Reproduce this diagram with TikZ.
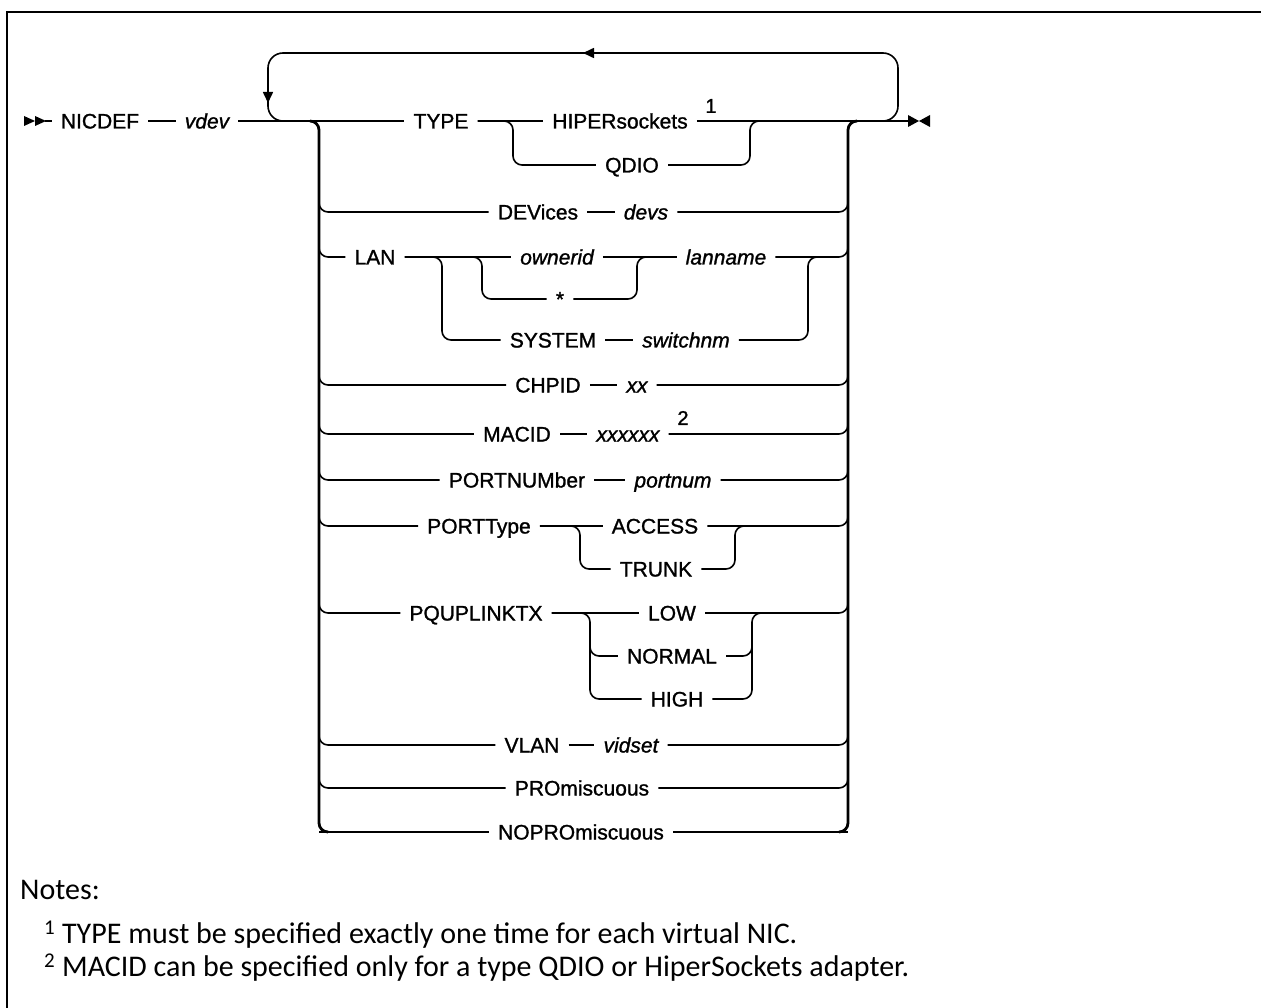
\documentclass[tikz,border=0pt]{standalone}
\usepackage{fontspec}
\setmainfont{Liberation Sans}[FakeBold=1.2,AutoFakeBold=1.2]
\newfontfamily\notefont{Carlito}
\usetikzlibrary{arrows.meta,calc}

\begin{document}
\begin{tikzpicture}[x=1pt,y=-1pt,
  kw/.style={inner xsep=9pt,inner ysep=0pt,text height=15pt,text depth=0pt,font=\fontsize{21}{21}\selectfont\bfseries},
  var/.style={kw,font=\fontsize{21}{21}\selectfont\bfseries\itshape},
  sup/.style={inner sep=0pt,font=\fontsize{20}{20}\selectfont\bfseries},
  ln/.style={line width=1.6pt},
  fork/.style={ln,rounded corners=9pt},
  rail/.style={line width=2.8pt,rounded corners=9pt},
  note/.style={anchor=west,inner sep=0pt,font=\notefont\fontsize{30}{30}\selectfont}]
  \useasboundingbox (0,0) rectangle (1261,1008);
  \draw[line width=2.6pt] (1261,12) -- (7,12) -- (7,1008); % frame

  % rails
  \coordinate (lrail) at (319,121);
  \coordinate (rrail) at (848,121);

  % main line
  \fill (24,116) -- (35,121) -- (24,126) -- cycle;
  \fill (35,116) -- (46,121) -- (35,126) -- cycle;
  \coordinate (start) at (45,121);
  \node[kw] (nicdef) at (100,121) {NICDEF};
  \node[var] (vdev) at (207,121) {vdev};
  \node[kw] (type) at (441,121) {TYPE};
  \node[kw] (hiper) at (620,121) {HIPERsockets};
  \node[sup] (n1) at (711,106) {1};
  \node[kw] (qdio) at (632,165) {QDIO};
  \coordinate (stop) at (908,121);
  \fill (908,115) -- (919,121) -- (908,127) -- cycle;
  \fill (930,115) -- (919,121) -- (930,127) -- cycle;

  \draw[ln] (start) -- (nicdef);
  \draw[ln] (nicdef) -- (vdev);
  \draw[ln] (vdev) -- (type);
  \draw[ln] (type) -- (hiper);
  \draw[ln] (hiper) -- (stop);
  \draw[fork] (type) -| (513,140) |- (qdio);
  \draw[fork] (qdio) -| (750,140) |- (762,121);

  % repeat loop
  \draw[ln,rounded corners=15pt] (875,121) -- (898,121) -- (898,53) -- (268,53) -- (268,121) -- (295,121);
  \draw[ln,-{Triangle[length=11pt,width=10pt]}] (268,85) -- (268,103);
  \draw[ln,-{Triangle[length=11pt,width=10pt]}] (600,53) -- (583,53);

  % DEVices
  \node[kw] (devk) at (538,212) {DEVices};
  \node[var] (devs) at (646,212) {devs};
  \draw[ln] (devk) -- (devs);

  % LAN
  \node[kw] (lan) at (375,257) {LAN};
  \node[var] (ownerid) at (557,257) {ownerid};
  \node[var] (lanname) at (726,257) {lanname};
  \node[kw] (star) at (560,299) {*};
  \node[kw] (system) at (553,340) {SYSTEM};
  \node[var] (switchnm) at (686,340) {switchnm};
  \draw[ln] (lan) -- (ownerid);
  \draw[ln] (ownerid) -- (lanname);
  \draw[ln] (system) -- (switchnm);
  \draw[fork] (lan) -| (442,300) |- (system);
  \draw[fork] (465,257) -| (482,280) |- (star);
  \draw[fork] (star) -| (637,280) |- (650,257);
  \draw[fork] (switchnm) -| (808,300) |- (820,257);

  % CHPID, MACID, PORTNUMber
  \node[kw] (chpid) at (548,385) {CHPID};
  \node[var] (xx) at (637,385) {xx};
  \draw[ln] (chpid) -- (xx);
  \node[kw] (macid) at (517,434) {MACID};
  \node[var] (mac) at (628,434) {xxxxxx};
  \node[sup] (n2) at (683,418) {2};
  \draw[ln] (macid) -- (mac);
  \node[kw] (portnum) at (517,480) {PORTNUMber};
  \node[var] (pnum) at (673,480) {portnum};
  \draw[ln] (portnum) -- (pnum);

  % PORTType
  \node[kw] (portt) at (479,526) {PORTType};
  \node[kw] (access) at (655,526) {ACCESS};
  \node[kw] (trunk) at (656,569) {TRUNK};
  \draw[ln] (portt) -- (access);
  \draw[fork] (portt) -| (580,545) |- (trunk);
  \draw[fork] (trunk) -| (735,545) |- (748,526);

  % PQUPLINKTX
  \node[kw] (pqup) at (476,613) {PQUPLINKTX};
  \node[kw] (low) at (672,613) {LOW};
  \node[kw] (normal) at (672,656) {NORMAL};
  \node[kw] (high) at (677,699) {HIGH};
  \draw[ln] (pqup) -- (low);
  \draw[fork] (pqup) -| (590,650) |- (high);
  \draw[fork] (590,635) |- (normal);
  \draw[fork] (high) -| (752,650) |- (765,613);
  \draw[fork] (normal) -| (752,640);

  % VLAN, PROmiscuous, NOPROmiscuous
  \node[kw] (vlan) at (532,745) {VLAN};
  \node[var] (vidset) at (631,745) {vidset};
  \draw[ln] (vlan) -- (vidset);
  \node[kw] (pro) at (582,788) {PROmiscuous};
  \node[kw] (nopro) at (581,832) {NOPROmiscuous};
  \draw[ln] (lrail |- nopro) -- (nopro);
  \draw[ln] (nopro) -- (rrail |- nopro);

  % branches off the left rail
  \draw[fork] ($(lrail |- devk)+(0,-15)$) |- (devk);
  \draw[fork] ($(lrail |- lan)+(0,-15)$) |- (lan);
  \draw[fork] ($(lrail |- chpid)+(0,-15)$) |- (chpid);
  \draw[fork] ($(lrail |- macid)+(0,-15)$) |- (macid);
  \draw[fork] ($(lrail |- portnum)+(0,-15)$) |- (portnum);
  \draw[fork] ($(lrail |- portt)+(0,-15)$) |- (portt);
  \draw[fork] ($(lrail |- pqup)+(0,-15)$) |- (pqup);
  \draw[fork] ($(lrail |- vlan)+(0,-15)$) |- (vlan);
  \draw[fork] ($(lrail |- pro)+(0,-15)$) |- (pro);

  % branches into the right rail
  \draw[fork] (devs) -| ($(rrail |- devs)+(0,-15)$);
  \draw[fork] (lanname) -| ($(rrail |- lanname)+(0,-15)$);
  \draw[fork] (xx) -| ($(rrail |- xx)+(0,-15)$);
  \draw[fork] (mac) -| ($(rrail |- mac)+(0,-15)$);
  \draw[fork] (pnum) -| ($(rrail |- pnum)+(0,-15)$);
  \draw[fork] (access) -| ($(rrail |- access)+(0,-15)$);
  \draw[fork] (low) -| ($(rrail |- low)+(0,-15)$);
  \draw[fork] (vidset) -| ($(rrail |- vidset)+(0,-15)$);
  \draw[fork] (pro) -| ($(rrail |- pro)+(0,-15)$);

  \draw[rail] ($(lrail)+(-9,0)$) -- (lrail) |- ($(lrail |- nopro)+(9,0)$);
  \draw[rail] ($(rrail |- nopro)+(-9,0)$) -| (rrail) -- ($(rrail)+(9,0)$);

  % notes
  \node[note] (notes) at (20,890) {Notes:};
  \node[note] (note1) at (44,935) {\textsuperscript{1} TYPE must be specified exactly one time for each virtual NIC.};
  \node[note] (note2) at (44,968) {\textsuperscript{2} MACID can be specified only for a type QDIO or HiperSockets adapter.};
\end{tikzpicture}
\end{document}
